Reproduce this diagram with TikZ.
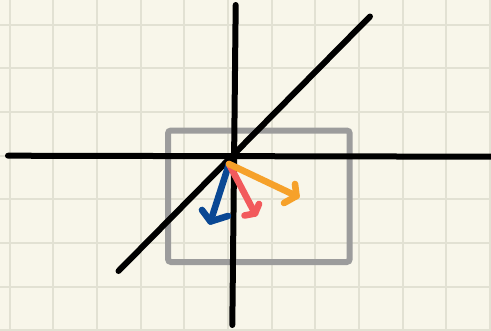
\documentclass[tikz,border=0pt]{standalone}
\usepackage{tikz}
\definecolor{paper}{RGB}{248,246,234}
\definecolor{gridline}{RGB}{226,225,211}
\definecolor{boxgray}{RGB}{156,156,156}
\definecolor{vecblue}{RGB}{10,72,148}
\definecolor{vecred}{RGB}{242,90,92}
\definecolor{vecorange}{RGB}{246,161,42}
\begin{document}
\begin{tikzpicture}[x=0.5mm, y=-0.5mm,
    axis/.style={line width=3mm, black, line cap=round},
    vec/.style={line width=3.3mm, line cap=round, line join=round}]
            % Background and grid
            \fill[paper] (0,0) rectangle (491,331);
            \useasboundingbox (0,0) rectangle (491,331);
            \foreach \k in {0,...,11}
                \draw[gridline, line width=1mm] (9.7+43.65*\k,0) -- (9.7+43.65*\k,331);
            \foreach \k in {0,...,7}
                \draw[gridline, line width=1mm] (0,24.7+43.65*\k) -- (491,24.7+43.65*\k);

            % Draw box
            \draw[boxgray, line width=3mm, rounded corners=1.5mm] (168,130.5) rectangle (349.7,262);

            % Draw axes and diagonal
            \draw[axis] (8,155.7) -- (495,156.7);
            \draw[axis] (235.7,5) -- (232.3,325);
            \draw[axis] (118.5,271) -- (370,16.5);

            % Draw vectors
            \coordinate (O) at (229,164);
            \coordinate (tipblue) at (210.5,221.5);
            \coordinate (tipred) at (255,213.5);
            \coordinate (tiporange) at (296.5,196);
            \draw[vec, vecblue] (O) -- (tipblue);
            \draw[vec, vecblue] (202,210) -- (tipblue) -- (228,216);
            \draw[vec, vecred] (O) -- (tipred);
            \draw[vec, vecred] (244.5,215.5) -- (tipred) -- (259,204);
            \draw[vec, vecorange] (O) -- (tiporange);
            \draw[vec, vecorange] (295,184) -- (tiporange) -- (284,203);
        \end{tikzpicture}
\end{document}
